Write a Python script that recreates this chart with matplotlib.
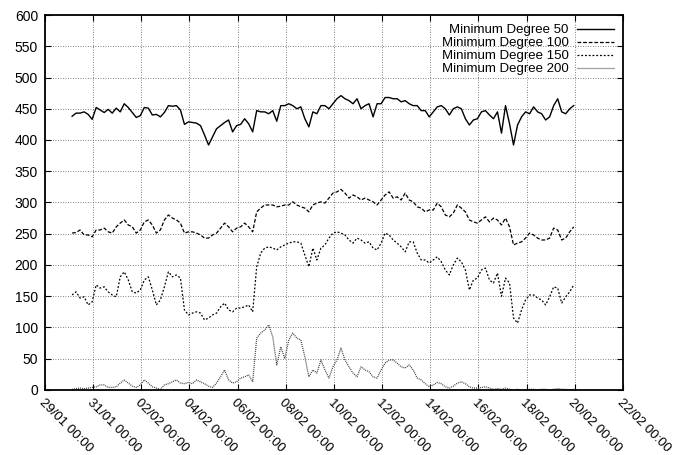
import matplotlib
matplotlib.use("Agg")
import matplotlib.pyplot as plt
import matplotlib.dates as mdates
import pandas as pd

# samples every 4 hours
times = pd.date_range("2010-01-30 03:00", periods=126, freq="4h")

deg50 = [438, 443, 443, 445, 441, 433, 452, 448, 444, 449, 443, 451, 445, 458, 452,
         444, 436, 439, 452, 451, 440, 441, 437, 444, 455, 454, 455, 448, 425, 429,
         428, 427, 423, 408, 392, 405, 418, 423, 428, 432, 413, 423, 425,
         434, 426, 413, 447, 445, 445, 442, 447, 430, 455, 455, 458, 455, 450, 453,
         434, 421, 445, 442, 455, 455, 450, 458, 466, 471, 466, 463, 458, 466, 450,
         455, 458, 437, 458, 458, 468, 468, 466, 466, 461, 463, 458, 455,
         455, 447, 447, 437, 445, 453, 455, 450, 440, 450, 453, 450, 434, 424, 432,
         434, 445, 447, 440, 434, 445, 411, 455, 426, 392, 424, 437, 445, 442, 453,
         445, 442, 432, 437, 455, 466, 445, 442, 450, 455]

deg100 = [251, 252, 256, 248, 248, 245, 256, 256, 259, 253, 251, 261, 267, 272, 264,
          261, 251, 256, 269, 272, 264, 251, 256, 272, 280, 275, 272, 267, 251, 253,
          253, 251, 248, 243, 243, 248, 251, 259, 267, 261, 253, 259, 261,
          267, 261, 253, 285, 291, 296, 296, 296, 293, 294, 296, 296, 301, 296, 293,
          291, 285, 296, 299, 301, 299, 307, 315, 317, 321, 315, 307, 312, 309, 304,
          307, 304, 301, 296, 304, 312, 317, 307, 309, 304, 315, 304, 301,
          293, 291, 285, 288, 288, 299, 293, 280, 277, 283, 296, 291, 285, 272, 269,
          267, 272, 277, 269, 275, 272, 264, 275, 261, 232, 235, 237, 243, 251, 248,
          243, 240, 240, 243, 259, 256, 240, 243, 253, 261]

deg150 = [152, 157, 147, 149, 136, 141, 168, 163, 165, 157, 152, 149, 181, 189, 176,
          157, 155, 160, 176, 181, 160, 136, 144, 165, 189, 181, 184, 179, 128, 120,
          123, 125, 123, 112, 115, 120, 123, 133, 139, 128, 125, 131, 131,
          133, 136, 125, 197, 219, 227, 229, 227, 224, 229, 232, 235, 237, 237, 235,
          216, 197, 227, 208, 227, 232, 243, 251, 253, 251, 248, 240, 235, 243, 240,
          235, 237, 227, 224, 235, 251, 248, 240, 235, 229, 221, 237, 237,
          219, 208, 208, 203, 208, 213, 205, 192, 184, 200, 211, 205, 192, 160, 176,
          179, 192, 195, 176, 171, 187, 150, 179, 171, 115, 107, 128, 144, 152, 152,
          147, 144, 136, 149, 165, 163, 139, 149, 157, 168]

deg200 = [1, 2, 3, 2, 3, 4, 5, 8, 8, 4, 4, 5, 11, 16, 11,
          6, 4, 8, 16, 11, 5, 3, 1, 8, 10, 13, 16, 11, 10, 12,
          10, 16, 13, 10, 6, 4, 11, 21, 32, 16, 11, 13, 19,
          21, 24, 13, 83, 91, 96, 104, 85, 40, 69, 50, 80, 91, 83, 80,
          53, 21, 32, 27, 48, 32, 19, 37, 48, 67, 48, 37, 27, 21, 37,
          32, 29, 21, 19, 32, 43, 48, 48, 43, 37, 35, 40, 32,
          19, 16, 10, 5, 8, 12, 10, 5, 3, 6, 11, 13, 10, 5, 3,
          3, 4, 5, 3, 1, 2, 1, 3, 1, 0, 1, 0, 0, 1, 1,
          0, 1, 1, 0, 1, 2, 1, 1, 0, 1]

labels = ["Minimum Degree 50", "Minimum Degree 100",
          "Minimum Degree 150", "Minimum Degree 200"]
x_ticks = pd.date_range("2010-01-29", "2010-02-22", freq="2D")

plt.rcParams["font.family"] = ["Liberation Sans", "DejaVu Sans"]

fig = plt.figure(figsize=(6.86, 4.55), dpi=100)
ax = fig.add_axes([0.0656, 0.143, 0.8424, 0.824])

ax.plot(times, deg50, color="black", lw=1.0, ls="-", label=labels[0])
ax.plot(times, deg100, color="black", lw=0.9, ls=(0, (3, 1.5)), label=labels[1])
ax.plot(times, deg150, color="black", lw=0.9, ls=(0, (1.5, 1.5)), label=labels[2])
ax.plot(times, deg200, color="0.25", lw=0.9, ls=(0, (0.8, 0.8)), label=labels[3])

ax.set_xlim(x_ticks[0], x_ticks[-1])
ax.set_ylim(0, 600)
ax.set_yticks(range(0, 601, 50))
ax.set_xticks(x_ticks)
ax.xaxis.set_major_formatter(mdates.DateFormatter("%d/%m %H:%M"))
for lbl in ax.get_xticklabels():
    lbl.set_rotation(-45)
    lbl.set_ha("left")
    lbl.set_va("top")
    lbl.set_rotation_mode("anchor")

ax.tick_params(direction="in", top=True, right=True, length=4, width=0.8)
ax.tick_params(axis="x", pad=5, labelsize=9.5)
ax.tick_params(axis="y", pad=5, labelsize=10)
ax.grid(True, color="0.35", lw=0.6, ls=(0, (1, 2)))
for s in ax.spines.values():
    s.set_linewidth(1.3)

leg = ax.legend(loc="upper right", frameon=False, markerfirst=False,
                fontsize=9.5, handlelength=2.8, labelspacing=0.05,
                handletextpad=0.6, borderaxespad=0.3)
# right-align the legend entries like gnuplot does
leg._legend_box._children[-1]._children[0].align = "right"

fig.savefig("out.png", dpi=100)
